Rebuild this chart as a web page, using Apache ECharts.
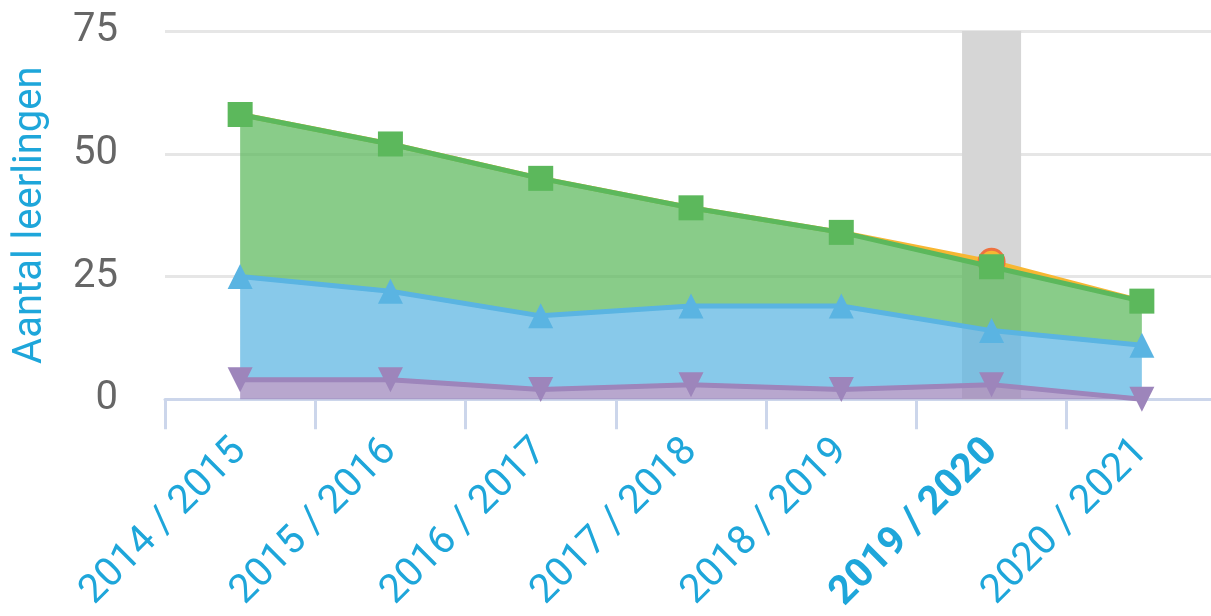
<!DOCTYPE html>
<html>
<head>
<meta charset="utf-8">
<script src="https://cdn.jsdelivr.net/npm/echarts@6/dist/echarts.min.js"></script>
<style>
html,body{margin:0;padding:0;background:#fff;overflow:hidden;}
#chart{width:1217px;height:616px;}
</style>
</head>
<body>
<div id="chart"></div>
<script>
var categories = ['2014 / 2015','2015 / 2016','2016 / 2017','2017 / 2018','2018 / 2019','2019 / 2020','2020 / 2021'];
var purpleValues = [4, 4, 2, 3, 2, 3, 0];
var blueValues = [21, 18, 15, 16, 17, 11, 11];
var greenValues = [33, 30, 28, 20, 15, 13, 9];
var orangeValues = [0, 0, 0, 0, 0, 1, 0];
var highlightCategory = '2019 / 2020';
var yTicks = [0, 25, 50, 75];

var yMax = yTicks[yTicks.length - 1];
var bandData = categories.map(function (c) { return c === highlightCategory ? yMax : null; });

var labelColor = '#1ea6da';
var chart = echarts.init(document.getElementById('chart'), null, {renderer: 'canvas'});

function areaSeries(name, data, color, symbol, rotate, z) {
  return {
    name: name, type: 'line', stack: 'total', data: data, z: z,
    symbol: symbol, symbolSize: 25, symbolRotate: rotate || 0,
    lineStyle: {color: color, width: 5},
    itemStyle: {color: color, opacity: 1},
    areaStyle: {color: color, opacity: 0.72},
    emphasis: {disabled: true},
    animation: false
  };
}

var orangeData = orangeValues.map(function (v) {
  return v > 0 ? {value: v} : {value: v, symbol: 'none'};
});

var option = {
  animation: false,
  grid: {left: 165, top: 31, right: 0, bottom: 215, containLabel: false},
  xAxis: {
    type: 'category', data: categories, boundaryGap: true,
    axisLine: {lineStyle: {color: '#ccd6eb', width: 3}},
    axisTick: {show: true, length: 30, lineStyle: {color: '#ccd6eb', width: 3}},
    axisLabel: {
      rotate: 45, margin: 46, color: labelColor, fontSize: 40, fontFamily: 'Roboto',
      interval: 0,
      formatter: function (v) { return v === highlightCategory ? '{b|' + v + '}' : v; },
      rich: {b: {fontWeight: 'bold', color: labelColor, fontSize: 40, fontFamily: 'Roboto'}}
    }
  },
  yAxis: {
    type: 'value', min: yTicks[0], max: yMax, interval: yTicks[1] - yTicks[0],
    name: 'Aantal leerlingen', nameLocation: 'middle', nameGap: 114,
    nameTextStyle: {color: labelColor, fontSize: 40, fontFamily: 'Roboto'},
    axisLine: {show: false}, axisTick: {show: false},
    axisLabel: {color: '#666666', fontSize: 40, fontFamily: 'Roboto', margin: 47},
    splitLine: {lineStyle: {color: '#e6e6e6', width: 3}}
  },
  series: [
    {
      name: 'highlight', type: 'bar', data: bandData, barWidth: 59, barGap: '-100%',
      itemStyle: {color: '#d6d6d6'}, z: 0, silent: true, animation: false
    },
    areaSeries('Paars', purpleValues, '#9d85bb', 'triangle', 180, 4),
    areaSeries('Blauw', blueValues, '#5ab4e2', 'triangle', 0, 4),
    areaSeries('Groen', greenValues, '#5cb85c', 'rect', 0, 4),
    (function () {
      var s = areaSeries('Oranje', orangeData, '#f7b733', 'circle', 0, 3);
      s.itemStyle = {color: '#f7b733', borderColor: '#ee7240', borderWidth: 3};
      s.lineStyle = {color: '#f7b733', width: 5};
      return s;
    })()
  ]
};
chart.setOption(option);
</script>
</body>
</html>
